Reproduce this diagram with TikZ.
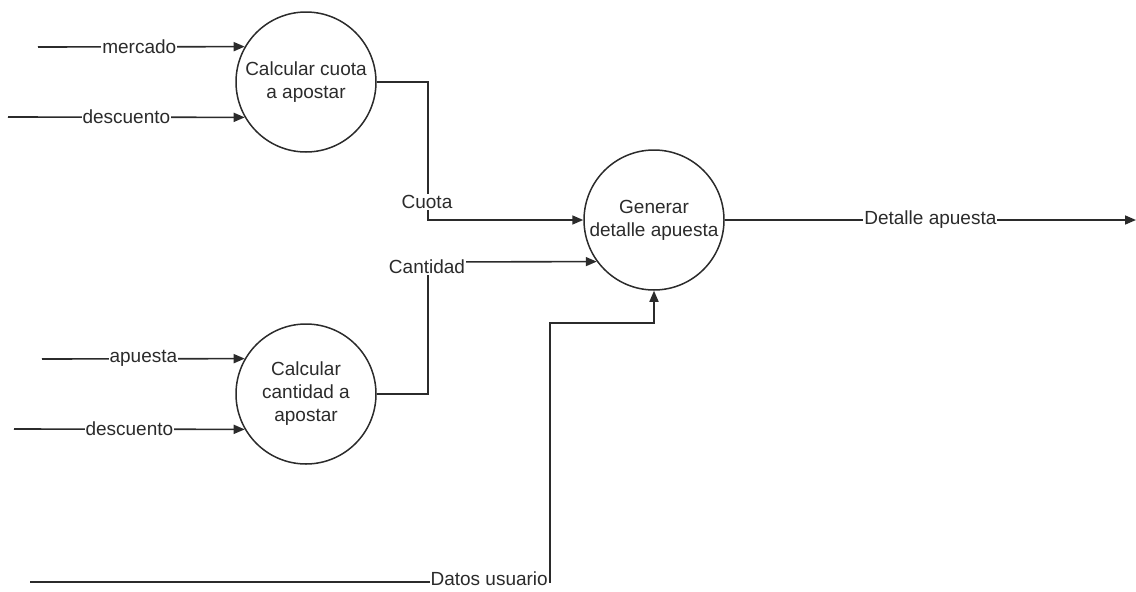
\documentclass[tikz,border=0pt]{standalone}
\usepackage{fontspec}
\setmainfont{Liberation Sans}
\usetikzlibrary{arrows.meta}
\definecolor{ink}{HTML}{2B2B2B}
\tikzset{
  proc/.style={circle, draw=ink, line width=1.5pt, minimum size=140pt, inner sep=0pt,
    align=center, text=ink, font=\fontsize{19}{23}\selectfont},
  flow/.style={draw=ink, line width=1.6pt, -{Triangle[length=11pt,width=9pt]}},
  lbl/.style={fill=white, inner sep=1pt, text=ink, font=\fontsize{19}{23}\selectfont}
}
\begin{document}
\begin{tikzpicture}[x=1pt, y=-1pt]
  \useasboundingbox (0,0) rectangle (1136,592);

  % processes
  \node[proc] (cuota) at (306,82) {Calcular cuota\\a apostar};
  \node[proc] (cantidad) at (306,394) {Calcular\\cantidad a\\apostar};
  \node[proc] (gen) at (654,220) {Generar\\detalle apuesta};

  % external inputs
  \coordinate (inMercado) at (38,47);
  \coordinate (inDesc1) at (8,117);
  \coordinate (inApuesta) at (42,359);
  \coordinate (inDesc2) at (14,429);
  \coordinate (inDatos) at (30,582);

  \draw[flow] (inMercado) -- node[lbl, pos=0.49]{mercado} (cuota.150);
  \draw[flow] (inDesc1) -- node[lbl, pos=0.5]{descuento} (cuota.210);
  \draw[flow] (inApuesta) -- node[lbl, pos=0.5]{apuesta} (cantidad.150);
  \draw[flow] (inDesc2) -- node[lbl, pos=0.5]{descuento} (cantidad.210);

  % Cuota: from first process down into the generator
  \coordinate (kc1) at (428,82);
  \coordinate (kc2) at (428,220);
  \draw[flow] (cuota.east) -- (kc1) -- (kc2) -- (gen.west);
  \node[lbl] (lCuota) at (427,202) {Cuota};

  % Cantidad: from second process up into the generator
  \coordinate (kq1) at (428,394);
  \coordinate (kq2) at (428,262);
  \draw[flow] (cantidad.east) -- (kq1) -- (kq2) -- (gen.216.87);
  \node[lbl] (lCantidad) at (427,267) {Cantidad};

  % Datos usuario
  \coordinate (kd1) at (550,582);
  \coordinate (kd2) at (550,323);
  \coordinate (kd3) at (654,323);
  \draw[flow] (inDatos) -- (kd1) -- (kd2) -- (kd3) -- (gen.south);
  \node[lbl, anchor=east] (lDatos) at (549,579) {Datos usuario};

  % output
  \coordinate (outDetalle) at (1136,220);
  \draw[flow] (gen.east) -- node[lbl, pos=0.5]{Detalle apuesta} (outDetalle);
\end{tikzpicture}
\end{document}
